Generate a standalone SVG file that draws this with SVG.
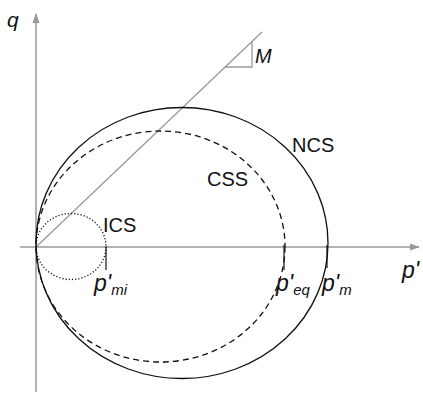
<svg xmlns="http://www.w3.org/2000/svg" width="423" height="395" viewBox="0 0 423 395">
<defs>
<marker id="arr" markerWidth="10" markerHeight="8" refX="9" refY="4" orient="auto" markerUnits="userSpaceOnUse">
<path d="M0,0.5 L10,4 L0,7.5 Z" fill="#999"/>
</marker>
<style>
.ax{stroke:#999;stroke-width:1.5;fill:none}
.cur{fill:none;stroke:#111;stroke-width:1.3}
.lbl{font-family:"Liberation Sans",Arial,sans-serif;fill:#111}
.it{font-style:italic}
</style>
</defs>
<g id="connectors">
<line class="ax" x1="36" y1="392" x2="36" y2="14" marker-end="url(#arr)"/>
<line class="ax" x1="20" y1="247" x2="419" y2="247" marker-end="url(#arr)"/>
<line x1="36" y1="247" x2="262" y2="32" stroke="#999" stroke-width="1.3"/>
<polyline points="225,67 252,67 252,41" fill="none" stroke="#999" stroke-width="1.3"/>
<line x1="106" y1="247" x2="106" y2="270" stroke="#111" stroke-width="1.2"/>
<line x1="284" y1="245" x2="284" y2="270" stroke="#111" stroke-width="1.2"/>
<line x1="327" y1="245" x2="327" y2="268" stroke="#111" stroke-width="1.2"/>
</g>
<g id="NCS">
<ellipse class="cur" cx="182" cy="243" rx="146" ry="135.5"/>
<text class="lbl" x="292" y="152" font-size="20">NCS</text>
</g>
<g id="CSS">
<ellipse class="cur" cx="160.5" cy="246.5" rx="124.5" ry="115.5" stroke-dasharray="6,4"/>
<text class="lbl" x="207" y="186" font-size="20">CSS</text>
</g>
<g id="ICS">
<ellipse class="cur" cx="71" cy="246.5" rx="35" ry="33" stroke-dasharray="1.2,2" stroke-width="1.2"/>
<text class="lbl" x="103" y="232" font-size="20">ICS</text>
</g>
<g id="labels">
<text class="lbl it" x="7" y="27" font-size="21">q</text>
<text class="lbl it" x="402" y="278" font-size="23">p'</text>
<text class="lbl it" x="255" y="63" font-size="20">M</text>
<text class="lbl it" x="94" y="291" font-size="23">p'<tspan font-size="15" dy="4">mi</tspan></text>
<text class="lbl it" x="276" y="291" font-size="23">p'<tspan font-size="15" dy="4">eq</tspan></text>
<text class="lbl it" x="322" y="291" font-size="23">p'<tspan font-size="15" dy="4">m</tspan></text>
</g>
</svg>
